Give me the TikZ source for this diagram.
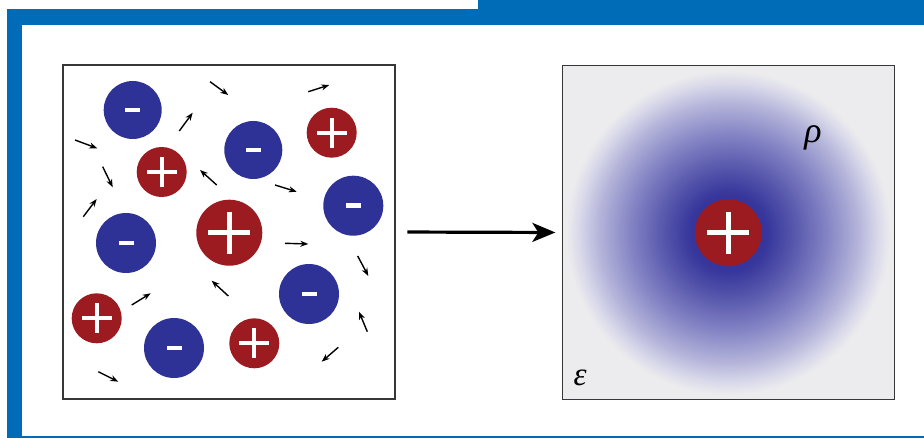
\documentclass[tikz,border=0pt]{standalone}
\usepackage{fontspec}
\newfontfamily\greekfont{Liberation Serif}
\usetikzlibrary{arrows.meta}

\definecolor{frameblue}{RGB}{0,107,182}
\definecolor{ionblue}{RGB}{46,50,150}
\definecolor{ionred}{RGB}{155,27,32}
\definecolor{panelgray}{RGB}{236,236,238}
\definecolor{edgegray}{RGB}{55,55,55}
\definecolor{cloudA}{RGB}{44,44,146}
\definecolor{cloudB}{RGB}{54,54,156}
\definecolor{cloudC}{RGB}{86,86,172}
\definecolor{cloudD}{RGB}{130,130,196}
\definecolor{cloudE}{RGB}{180,180,218}
\definecolor{cloudF}{RGB}{216,216,234}

% counter-ion cloud: dark at the centre, fading into the panel grey
% (the central 25bp radius is what fills the shaded circle)
\pgfdeclareradialshading{cloud}{\pgfpoint{0bp}{0bp}}{%
  color(0bp)=(cloudA); color(6bp)=(cloudB); color(10bp)=(cloudC);
  color(15bp)=(cloudD); color(20bp)=(cloudE); color(23bp)=(cloudF);
  color(25bp)=(panelgray); color(50bp)=(panelgray)}

% white bar centred in a node (half width, half height)
\newcommand\signbar[2]{\fill[white]
  ([xshift=-#1,yshift=-#2]path picture bounding box.center) rectangle
  ([xshift=#1,yshift=#2]path picture bounding box.center);}

\tikzset{
  ion/.style={circle, inner sep=0pt, draw=none},
  neg/.style={ion, fill=ionblue, minimum size=#1,
    path picture={\signbar{7.5pt}{2.4pt}}},
  pos/.style={ion, fill=ionred, minimum size=#1,
    path picture={\signbar{15pt}{2.1pt}\signbar{2.1pt}{15pt}}},
  bigpos/.style={ion, fill=ionred, minimum size=#1,
    path picture={\signbar{21pt}{2.6pt}\signbar{2.6pt}{21pt}}},
  panel/.style={rectangle, draw=edgegray, line width=1.3pt,
    minimum width=332pt, minimum height=334pt, inner sep=0pt},
  jit/.style={line width=1.4pt, -{Stealth[length=8pt,width=6pt]}},
  bigarrow/.style={line width=3.2pt, -{Stealth[length=23pt,width=19pt,inset=6pt]}},
  sym/.style={inner sep=0pt, font=\greekfont\itshape\fontsize{36}{36}\selectfont}
}

\begin{document}
\begin{tikzpicture}[x=1pt,y=-1pt]
\useasboundingbox (0,0) rectangle (924,438);

% page frame
\fill[frameblue] (478,0) rectangle (924,25);
\fill[frameblue] (7,9.5) rectangle (924,25);
\fill[frameblue] (7,9.5) rectangle (22,438);
\fill[frameblue] (22,436.3) rectangle (924,438);

% panels
\node[panel, fill=white] (lpanel) at (229,232) {};
\node[panel, fill=panelgray] (rpanel) at (728.5,232.5) {};

% screened ion with its cloud
\begin{scope}
  \clip (rpanel.south west) rectangle (rpanel.north east);
  \shade[shading=cloud] (728.3,232.7) circle[radius=162pt];
\end{scope}
\node[panel] at (rpanel.center) {};
\node[bigpos=67pt] (cion) at (728.3,232.7) {};
\node[sym] (rho) at (813,138) {ρ};
\node[sym, font=\greekfont\itshape\fontsize{33}{33}\selectfont] (eps) at (580,378) {ε};

% electrolyte: anions
\node[neg=58pt] (n1) at (132.7,110) {};
\node[neg=58pt] (n2) at (253.3,150) {};
\node[neg=60pt] (n3) at (353.3,205.7) {};
\node[neg=60pt] (n4) at (126,243) {};
\node[neg=60pt] (n5) at (309,294) {};
\node[neg=60pt] (n6) at (174,348) {};

% electrolyte: cations
\node[pos=50pt] (p1) at (331.7,132.7) {};
\node[pos=50pt] (p2) at (161.7,172) {};
\node[bigpos=66pt] (p3) at (229.3,232.7) {};
\node[pos=50pt] (p4) at (96.7,318.3) {};
\node[pos=50pt] (p5) at (254.3,343.3) {};

% thermal motion
\draw[jit] (210,81.7) coordinate (m1a) -- (228.3,95) coordinate (m1b);
\draw[jit] (308.3,91.7) coordinate (m2a) -- (329.3,85) coordinate (m2b);
\draw[jit] (179.3,131) coordinate (m3a) -- (192.7,112.7) coordinate (m3b);
\draw[jit] (75,140) coordinate (m4a) -- (97.3,148.3) coordinate (m4b);
\draw[jit] (102.7,166.7) coordinate (m5a) -- (112.7,187.3) coordinate (m5b);
\draw[jit] (216.7,185) coordinate (m6a) -- (200,170) coordinate (m6b);
\draw[jit] (275,185) coordinate (m7a) -- (296.7,191.7) coordinate (m7b);
\draw[jit] (83.3,216.7) coordinate (m8a) -- (96.7,199) coordinate (m8b);
\draw[jit] (285,243.3) coordinate (m9a) -- (308.3,244) coordinate (m9b);
\draw[jit] (357.7,256) coordinate (m10a) -- (368.3,276) coordinate (m10b);
\draw[jit] (228.3,296) coordinate (m11a) -- (211.7,280.7) coordinate (m11b);
\draw[jit] (131.7,305) coordinate (m12a) -- (150.7,293.3) coordinate (m12b);
\draw[jit] (367.3,331.7) coordinate (m13a) -- (359,311.7) coordinate (m13b);
\draw[jit] (338.3,347.3) coordinate (m14a) -- (321.7,361.7) coordinate (m14b);
\draw[jit] (98.3,371.7) coordinate (m15a) -- (118.3,381.7) coordinate (m15b);

% mean-field reduction
\draw[bigarrow, shorten <=11.7pt, shorten >=6.5pt] (lpanel.east) -- (rpanel.west);
\end{tikzpicture}
\end{document}
